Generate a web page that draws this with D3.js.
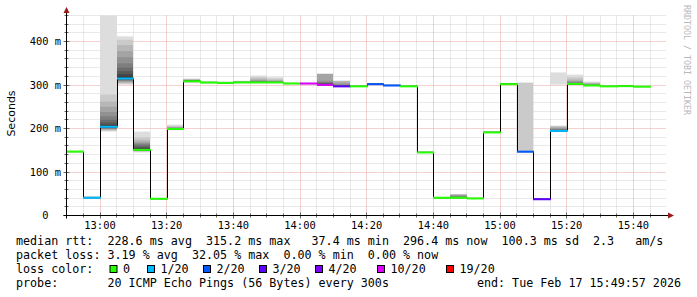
<!DOCTYPE html>
<html><head><meta charset="utf-8">
<script src="https://cdn.jsdelivr.net/npm/d3@7/dist/d3.min.js"></script>
<style>
body{margin:0;background:#fff}
svg{display:block}
</style>
</head><body><svg id="c" width="697" height="297"></svg>
<script>
// ---------- data ----------
const startTime = new Date(2026, 1, 17, 12, 49, 57);
const endTime   = new Date(2026, 1, 17, 15, 49, 57);
const firstSlot = new Date(2026, 1, 17, 12, 50, 0);
const stepMinutes = 5;
const totalPings = 20;

// median RTT per 5-minute step (ms)
const medians = [147, 40.8, 204, 315.2, 151, 38.5, 199, 308.8, 305.8, 305, 306, 306, 306, 303.5,
  303.5, 300.5, 297, 297, 302, 299, 297, 145, 40.8, 40.8, 39.2, 191, 302, 146.8, 37.4, 194.5,
  302.7, 299, 297, 297.5, 296.4];

// lost pings per step (out of 20)
const loss = [0, 1, 1, 1, 0, 0, 0, 0, 0, 0, 0, 0, 0, 0, 6, 6, 3, 0, 2, 2, 0, 0, 0, 0, 0, 0, 0, 2, 3, 1,
  0, 0, 0, 0, 0];

// received ping RTTs per step (ms) -> smoke
const pings = [
  [145,146,146,146,147,147,147,147,147,147,147,147,147,147,147,148,148,148,148,149],
  [39,40,40,40,40,40,40.5,40.5,40.8,40.8,41,41,41,41.5,42,42,42.5,43,43.5,44],
  [193,195,197,198,199,200,201,202,203,204,206,209,214,220,228,238,250,262,278,462],
  [301,303,305,307,309,310,312,313,314,315,319,325,332,340,350,364,378,392,404,412],
  [145,147,148,149,149,150,150,150,151,151,153,155,158,161,164,167,170,174,180,193],
  [37,37.5,38,38,38,38,38.5,38.5,38.5,38.5,38.5,38.5,39,39,39,39,39.5,39.5,40,40],
  [196,197,197,198,198,198,199,199,199,199,199,200,200,201,201,202,203,204,206,209],
  [305,306,307,307,308,308,308,308.5,308.5,309,309,309.5,310,310,311,311,312,313,314,315],
  [304,304.5,305,305,305,305.5,305.5,305.5,306,306,306,306,306,306.5,306.5,307,307,307.5,308,309],
  [303.5,304,304,304.5,304.5,305,305,305,305,305,305,305.5,305.5,305.5,306,306,306,306.5,307,308],
  [304,305,305,305,305.5,305.5,306,306,306,306,306,306.5,306.5,307,307,307.5,308,308.5,309,310],
  [304,305,305,305.5,305.5,306,306,306,306,306,306.5,307,307,308,309,310,312,315,318,322],
  [304,305,305,305.5,305.5,306,306,306,306,306,306.5,307,307,307.5,308,309,310,312,315,318],
  [302,302.5,303,303,303,303,303.5,303.5,303.5,303.5,303.5,304,304,304,304,304.5,304.5,305,305,306],
  [302,302.5,303,303,303,303.5,303.5,303.5,304,304,304,304.5,305,305],
  [298,298.5,299,299.5,300,300.5,301,302,303,304,305,307,310,326],
  [295,295.5,296,296,296.5,296.5,297,297,297,297,297.5,298,299,300,303,306,310],
  [295.5,296,296,296.5,296.5,296.5,297,297,297,297,297,297,297.5,297.5,297.5,298,298,298.5,299,299.5],
  [300.5,301,301,301.5,301.5,302,302,302,302,302,302,302.5,302.5,303,303,303.5,304,304.5],
  [297.5,298,298,298.5,298.5,299,299,299,299,299,299,299.5,299.5,300,300,300.5,301,301.5],
  [295.5,296,296,296.5,296.5,297,297,297,297,297,297,297,297.5,297.5,298,298,298.5,298.5,299,299.5],
  [143.5,144,144,144.5,144.5,145,145,145,145,145,145,145,145.5,145.5,146,146,146.5,146.5,147,148],
  [39.5,40,40,40,40.5,40.5,40.5,40.8,40.8,40.8,40.8,41,41,41,41.5,41.5,42,42,42.5,43],
  [39.5,40,40,40.5,40.5,40.5,40.8,40.8,40.8,40.8,41,41,41.5,42,44,46,48,48,48,48.5],
  [38,38.5,38.5,39,39,39,39,39.2,39.2,39.2,39.2,39.5,39.5,39.5,40,40,40,40.5,40.5,41],
  [189.5,190,190,190.5,190.5,191,191,191,191,191,191,191.5,191.5,192,192,192.5,192.5,193,193.5,194],
  [300.5,301,301,301.5,301.5,302,302,302,302,302,302,302.5,302.5,303,303,303.5,303.5,304,304.5,305],
  [145.5,146,146,146.5,146.5,146.5,146.8,146.8,146.8,146.8,147,147,147,147.5,147.5,148,148.5,305.7],
  [36.5,37,37,37,37.4,37.4,37.4,37.4,37.4,37.4,37.4,37.5,38,38,38.5,38.5,39],
  [301,192,192.5,193,193,193.5,193.5,194,194,194.5,195.5,196,196.5,197.5,198.5,200,202,204,206.5,329],
  [300,300.5,301,301,301.5,302,302,302.5,302.5,302.7,303,303.5,304,305,306,308,310,313,318,324],
  [297.5,298,298,298.5,298.5,299,299,299,299,299,299.5,300,300,300.5,301,302,303,304.5,306,308],
  [296,296.5,296.5,296.5,297,297,297,297,297,297,297,297,297.5,297.5,297.5,298,298,298.5,298.5,299],
  [296.5,297,297,297,297.5,297.5,297.5,297.5,297.5,297.5,297.5,297.5,298,298,298,298.5,298.5,299,299,299.5],
  [295.5,296,296,296,296.2,296.2,296.4,296.4,296.4,296.4,296.4,296.5,296.5,297,297,297,297.5,297.5,298,298.5]
];

const yMax = 460;
const yMajorTicks = [0, 100, 200, 300, 400];
const yTickLabels = ["0", "100 m", "200 m", "300 m", "400 m"];
const xTickLabels = ["13:00", "13:20", "13:40", "14:00", "14:20", "14:40", "15:00", "15:20", "15:40"];

const lossThresholds = [0, 1, 2, 3, 4, 10, 19];
const lossLabels = ["0", "1/20", "2/20", "3/20", "4/20", "10/20", "19/20"];
const lossColors = ["#26ff00", "#00b8ff", "#0059ff", "#5e00ff", "#7e00ff", "#dd00ff", "#ff0000"];

const yAxisTitle = "Seconds";
const watermark = "RRDTOOL / TOBI OETIKER";
const statLine1 = "median rtt:  228.6 ms avg  315.2 ms max   37.4 ms min  296.4 ms now  100.3 ms sd  2.3   am/s";
const statLine2 = "packet loss: 3.19 % avg  32.05 % max  0.00 % min  0.00 % now";
const lossTitle = "loss color:";
const probeLine = "probe:       20 ICMP Echo Pings (56 Bytes) every 300s";
const endLine = "end: Tue Feb 17 15:49:57 2026";

// ---------- layout ----------
const L = 66.5, R = 666.5, B = 215.5, T = 15.5;
const mono = "'DejaVu Sans Mono', monospace";
const svg = d3.select("#c");

const x = d3.scaleTime().domain([startTime, endTime]).range([L, R]);
const y = d3.scaleLinear().domain([0, yMax]).range([B, T]);
const slot = i => d3.timeMinute.offset(firstSlot, i * stepMinutes);
const snap = v => Math.floor(v) + 0.5;

// grid
const minorY = d3.range(20, yMax + 1, 20).filter(v => v % 100 !== 0);
const majorY = yMajorTicks.filter(v => v > 0);
const grid = svg.append("g");
const minorCol = "#d2d2d2", majorCol = "#eaa4a4";
grid.selectAll("line.hy").data(minorY).join("line")
  .attr("x1", L).attr("x2", R).attr("y1", d => snap(y(d))).attr("y2", d => snap(y(d)))
  .attr("stroke", minorCol).attr("stroke-dasharray", "1,1");
const fiveMin = d3.timeMinute.every(5).range(d3.timeMinute.offset(startTime, 1), endTime);
const majorX = fiveMin.filter(t => t.getMinutes() % 20 === 0);
const minorX = fiveMin.filter(t => t.getMinutes() % 20 !== 0);
grid.selectAll("line.vx").data(minorX).join("line")
  .attr("x1", d => snap(x(d))).attr("x2", d => snap(x(d))).attr("y1", T).attr("y2", B)
  .attr("stroke", minorCol).attr("stroke-dasharray", "1,1");
grid.selectAll("line.hY").data(majorY).join("line")
  .attr("x1", L).attr("x2", R).attr("y1", d => snap(y(d))).attr("y2", d => snap(y(d)))
  .attr("stroke", majorCol).attr("stroke-dasharray", "1,1");
grid.selectAll("line.vX").data(majorX).join("line")
  .attr("x1", d => snap(x(d))).attr("x2", d => snap(x(d))).attr("y1", T).attr("y2", B)
  .attr("stroke", majorCol).attr("stroke-dasharray", "1,1");

// smoke
svg.append("clipPath").attr("id", "plot").append("rect")
  .attr("x", L).attr("y", T).attr("width", R - L).attr("height", B - T);
const smoke = svg.append("g").attr("clip-path", "url(#plot)");
const half = totalPings / 2;
pings.forEach((p, i) => {
  const pad = totalPings - p.length;
  const pre = Math.floor(pad / 2);
  const full = Array(pre).fill(null).concat(p, Array(pad - pre).fill(null));
  const x0 = Math.round(x(slot(i))), x1 = Math.round(x(slot(i + 1)));
  for (let k = 0; k < half; k++) {
    const a = full[k], b = full[totalPings - 1 - k];
    if (a == null || b == null) continue;
    const c = Math.round(190 / half * (half - (k + 1))) + 50;
    const yt = y(Math.max(a, b)), yb = y(Math.min(a, b));
    smoke.append("rect").attr("x", x0).attr("width", x1 - x0)
      .attr("y", yt).attr("height", Math.max(0, yb - yt))
      .attr("fill", d3.rgb(c, c, c));
  }
});

// median step line
const pts = medians.map((m, i) => [slot(i), m]).concat([[slot(medians.length), medians[medians.length - 1]]]);
svg.append("path")
  .attr("d", d3.line().x(d => Math.round(x(d[0])) + 0.5).y(d => y(d[1])).curve(d3.curveStepAfter)(pts))
  .attr("fill", "none").attr("stroke", "#000").attr("stroke-width", 1);

// loss colored median segments
const lossIdx = l => lossThresholds.findIndex(t => l <= t);
svg.selectAll("line.med").data(medians).join("line")
  .attr("x1", (d, i) => Math.round(x(slot(i))))
  .attr("x2", (d, i) => Math.round(x(slot(i + 1))) + 1)
  .attr("y1", d => y(d)).attr("y2", d => y(d))
  .attr("stroke", (d, i) => lossColors[lossIdx(loss[i])]).attr("stroke-width", 2);

// axes
const ax = svg.append("g");
ax.selectAll("line.ty").data(d3.range(0, yMax + 1, 20)).join("line")
  .attr("x1", d => d % 100 === 0 ? L - 3 : L - 2).attr("x2", d => d % 100 === 0 ? L + 3 : L + 2)
  .attr("y1", d => snap(y(d))).attr("y2", d => snap(y(d))).attr("stroke", "#666");
ax.selectAll("line.tx").data(fiveMin).join("line")
  .attr("x1", d => snap(x(d))).attr("x2", d => snap(x(d)))
  .attr("y1", d => d.getMinutes() % 20 === 0 ? B - 3 : B - 2)
  .attr("y2", d => d.getMinutes() % 20 === 0 ? B + 3 : B + 2).attr("stroke", "#666");
ax.append("line").attr("x1", L - 3).attr("x2", 669).attr("y1", B).attr("y2", B).attr("stroke", "#000");
ax.append("line").attr("x1", L).attr("x2", L).attr("y1", B + 3).attr("y2", 11).attr("stroke", "#000");
ax.append("path").attr("d", `M${L - 3},13 L${L},7 L${L + 3},13 Z`).attr("fill", "#9b1b1b");
ax.append("path").attr("d", `M668,${B - 3} L674,${B} L668,${B + 3} Z`).attr("fill", "#9b1b1b");

// tick labels
svg.selectAll("text.yl").data(yMajorTicks).join("text")
  .attr("x", (d, i) => yTickLabels[i].endsWith(" m") ? 61 : 48.5)
  .attr("y", d => y(d) + 3.8).attr("text-anchor", "end")
  .attr("font-family", mono).attr("font-size", "10.4px").attr("fill", "#000")
  .text((d, i) => yTickLabels[i]);
const parseHM = d3.timeParse("%Y-%m-%d %H:%M");
svg.selectAll("text.xl").data(xTickLabels).join("text")
  .attr("x", d => x(parseHM("2026-02-17 " + d)))
  .attr("y", 228.5).attr("text-anchor", "middle")
  .attr("font-family", mono).attr("font-size", "10.4px").attr("fill", "#000")
  .text(d => d);

svg.append("text").attr("transform", "translate(15,113.5) rotate(-90)")
  .attr("text-anchor", "middle").attr("font-family", "'DejaVu Sans', sans-serif")
  .attr("font-size", "11px").attr("fill", "#000").text(yAxisTitle);
svg.append("text").attr("transform", "translate(684,5) rotate(90)")
  .attr("font-family", mono).attr("font-size", "8.3px").attr("fill", "#b8b8b8").text(watermark);

// legend
const leg = svg.append("g").attr("font-family", mono).attr("font-size", "11.7px").attr("fill", "#000")
  .style("white-space", "pre");
leg.append("text").attr("x", 16).attr("y", 245).attr("xml:space", "preserve").text(statLine1);
leg.append("text").attr("x", 16).attr("y", 259).attr("xml:space", "preserve").text(statLine2);
leg.append("text").attr("x", 16).attr("y", 273).text(lossTitle);
const boxX = [109.5, 147, 203, 259, 315, 377, 446];
lossLabels.forEach((lab, i) => {
  leg.append("rect").attr("x", boxX[i] + 0.5).attr("y", 265.5).attr("width", 7).attr("height", 7)
    .attr("fill", lossColors[i]).attr("stroke", "#000");
  leg.append("text").attr("x", boxX[i] + 13.5).attr("y", 273).text(lab);
});
leg.append("text").attr("x", 16).attr("y", 287).attr("xml:space", "preserve").text(probeLine);
leg.append("text").attr("x", 681).attr("y", 287).attr("text-anchor", "end").text(endLine);
</script>
</body></html>
